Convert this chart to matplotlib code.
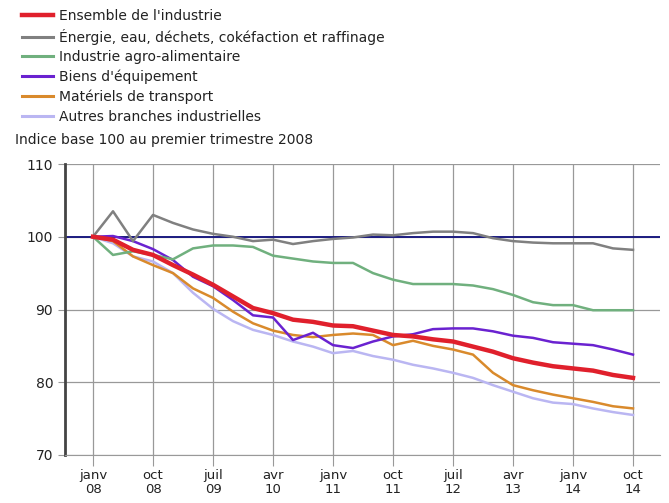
import matplotlib.pyplot as plt
from matplotlib.lines import Line2D

# trimestres de T1 2008 a T4 2014
quarters = list(range(28))
tick_pos = list(range(0, 28, 3))
tick_labels = ["janv\n08", "oct\n08", "juil\n09", "avr\n10", "janv\n11",
               "oct\n11", "juil\n12", "avr\n13", "janv\n14", "oct\n14"]

ensemble = [100, 99.6, 98.2, 97.5, 96.1, 94.8, 93.4, 91.8, 90.2, 89.5,
            88.6, 88.3, 87.8, 87.7, 87.1, 86.5, 86.3, 85.9, 85.6, 84.9,
            84.2, 83.3, 82.7, 82.2, 81.9, 81.6, 81.0, 80.6]
energie = [100, 103.5, 99.4, 103.0, 101.9, 101.0, 100.4, 100.0, 99.4, 99.6,
           99.0, 99.4, 99.7, 99.9, 100.3, 100.2, 100.5, 100.7, 100.7, 100.5,
           99.8, 99.4, 99.2, 99.1, 99.1, 99.1, 98.4, 98.2]
agro = [100, 97.5, 98.0, 97.5, 96.9, 98.4, 98.8, 98.8, 98.6, 97.4,
        97.0, 96.6, 96.4, 96.4, 95.0, 94.1, 93.5, 93.5, 93.5, 93.3,
        92.8, 92.0, 91.0, 90.6, 90.6, 89.9, 89.9, 89.9]
equipement = [100, 100.1, 99.4, 98.3, 96.8, 94.5, 93.2, 91.3, 89.2, 88.9,
              85.8, 86.8, 85.1, 84.7, 85.6, 86.3, 86.6, 87.3, 87.4, 87.4,
              87.0, 86.4, 86.1, 85.5, 85.3, 85.1, 84.5, 83.8]
transport = [100, 99.4, 97.3, 96.1, 95.0, 92.9, 91.6, 89.7, 88.1, 87.1,
             86.5, 86.2, 86.5, 86.7, 86.5, 85.1, 85.7, 85.0, 84.5, 83.8,
             81.3, 79.6, 78.9, 78.3, 77.8, 77.3, 76.7, 76.4]
autres = [100, 99.1, 97.3, 96.6, 95.0, 92.3, 90.1, 88.4, 87.2, 86.5,
          85.6, 84.9, 84.0, 84.3, 83.6, 83.1, 82.4, 81.9, 81.3, 80.6,
          79.6, 78.7, 77.8, 77.2, 77.0, 76.4, 75.9, 75.5]

series = [
    ("Ensemble de l'industrie", ensemble, "#e0202c", 3.2),
    ("Énergie, eau, déchets, cokéfaction et raffinage", energie, "#808080", 1.8),
    ("Industrie agro-alimentaire", agro, "#70b07e", 1.8),
    ("Biens d'équipement", equipement, "#6a22d0", 1.8),
    ("Matériels de transport", transport, "#d98a2c", 1.8),
    ("Autres branches industrielles", autres, "#bab6f2", 1.8),
]

fig = plt.figure(figsize=(6.69, 5.03), dpi=100)
ax = fig.add_axes([65 / 669, 1 - 455 / 503, 595 / 669, 291 / 503])

ax.axhline(100, color="#1c1c80", lw=1.4, zorder=1)
# ordre de trace : la courbe rouge au-dessus
for name, vals, col, lw in series[::-1]:
    ax.plot(quarters, vals, color=col, lw=lw, zorder=3 if col == "#e0202c" else 2,
            solid_joinstyle="round")

ax.set_xlim(-1.4, 28.35)
ax.set_ylim(70, 110)
ax.set_yticks([70, 80, 90, 100, 110])
ax.set_xticks(tick_pos)
ax.set_xticklabels(tick_labels, fontsize=9.5, color="#222222", linespacing=1.15)
ax.tick_params(axis="y", labelsize=10, labelcolor="#222222", length=5, color="#999999")
ax.tick_params(axis="x", length=8, color="#999999", pad=2)
ax.grid(True, color="#999999", lw=0.9)
ax.set_axisbelow(True)
for s in ["top", "right"]:
    ax.spines[s].set_visible(False)
ax.spines["left"].set_color("#444444")
ax.spines["left"].set_linewidth(2)
ax.spines["bottom"].set_color("#999999")

# legende en haut a gauche
handles = [Line2D([0], [0], color=c, lw=lw if lw > 2 else 2.2) for _, _, c, lw in series]
leg = fig.legend(handles, [s[0] for s in series], loc="upper left",
                 bbox_to_anchor=(0.02, 1.0), frameon=False, fontsize=10,
                 handlelength=2.2, handletextpad=0.45, labelspacing=0.4,
                 borderaxespad=0.25)
for t in leg.get_texts():
    t.set_color("#222222")
fig.text(15 / 669, 1 - 140 / 503, "Indice base 100 au premier trimestre 2008",
         fontsize=10, color="#222222", va="center")

plt.savefig("out.png", dpi=100)
